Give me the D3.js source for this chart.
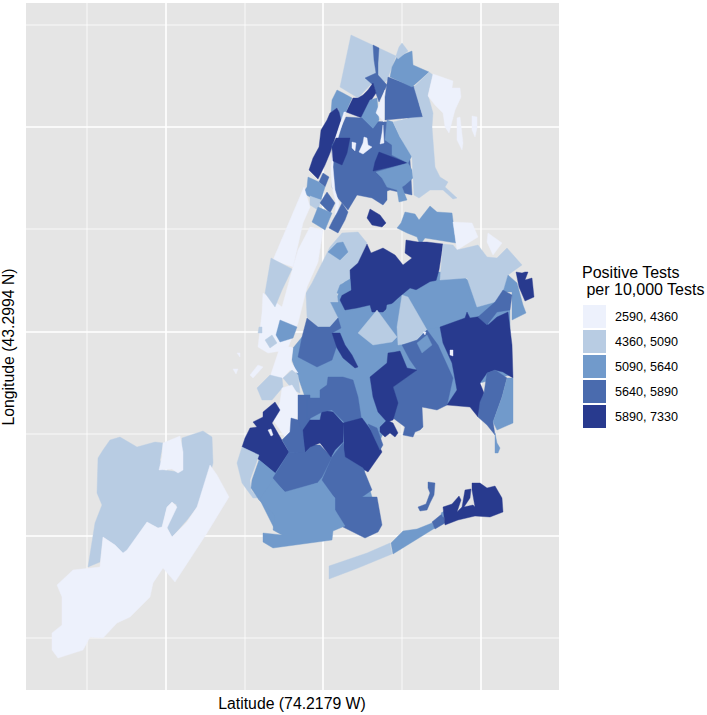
<!DOCTYPE html>
<html>
<head>
<meta charset="utf-8">
<style>
  body { margin: 0; background: #fff; }
  text { font-family: "Liberation Sans", Arial, sans-serif; fill: #000; }
</style>
<script src="https://cdn.jsdelivr.net/npm/d3@7"></script>
</head>
<body>
<div id="myChart"></div>
<script>
// legend bins
var binBreaks = [4360, 5090, 5640, 5890];
var binColors = ["#edf1fc", "#b8cce3", "#719acb", "#4a6bae", "#283a8e"];
var binLabels = ["2590, 4360", "4360, 5090", "5090, 5640", "5640, 5890", "5890, 7330"];
var legendTitle = ["Positive Tests", " per 10,000 Tests"];

// grid positions, map units
var majorEast = [156, 313, 471];
var minorEast = [77, 235, 392];
var majorSouth = [117, 322, 526];
var minorSouth = [15, 219, 424, 628];

// positive tests per 10,000 for each zone, read off the colour bins
// same order as zoneRings
var zoneRates = [
  // staten island
  4700, 4000, 4000,
  // bronx and north
  5770, 4700, 5770, 6300, 5400, 5400, 6300, 5770, 4000, 6300, 4000, 4000, 4000, 4000, 6300, 5400, 5400, 5770, 5400, 4700, 4700, 4000, 4000, 4000,
  // upper manhattan and the east river edge
  5770, 5400, 4700, 5770, 5400, 5770, 6300, 5400, 4000, 4000,
  // queens and brooklyn
  5400, 5400, 4700, 5770, 6300, 5400, 5400, 4700, 6300, 5400, 5400, 4700, 4700, 5770, 6300, 6300, 4000, 6300, 4000, 5770, 5400, 5400, 5400, 5400, 5770, 6300,
  // manhattan
  4000, 4000, 4700, 5400, 4700, 4700, 4000, 4000, 4000, 4000, 4700, 4700, 4000,
  // south brooklyn
  5400, 5770, 6300, 4000, 4700, 5400, 5770, 6300, 5770, 5770, 6300, 5770, 5400, 5770,
  // rockaways and jamaica bay
  4700, 5400, 5770, 5400, 6300, 5770
];

var zoneRings = [
  // staten island
  [[100,430],[110,427],[127,437],[145,432],[153,433],[150,450],[153,460],[170,462],[172,428],[193,421],[202,427],[203,453],[197,477],[187,497],[177,510],[162,527],[157,517],[163,500],[167,495],[162,492],[157,497],[152,517],[148,518],[137,512],[116,543],[112,543],[105,535],[93,527],[90,552],[78,557],[85,513],[92,495],[87,483],[88,448],[93,440]],
  [[153,433],[170,426],[173,442],[173,460],[168,463],[162,459],[149,460],[152,447]],
  [[200,455],[207,465],[219,487],[197,523],[165,572],[153,558],[143,573],[140,587],[120,607],[107,613],[93,628],[80,627],[73,640],[48,648],[42,640],[42,623],[52,615],[52,587],[47,575],[63,560],[90,557],[93,527],[105,535],[113,543],[117,540],[137,512],[148,518],[152,517],[157,497],[162,492],[167,497],[157,518],[162,527],[177,512],[187,497]],
  // bronx and north
  [[340,110],[378,112],[400,150],[402,185],[380,180],[362,186],[347,184],[338,198],[325,130]],
  [[341,25],[386,46],[377,70],[367,80],[362,73],[348,88],[330,77]],
  [[363,35],[369,38],[368,53],[368,65],[377,75],[369,92],[363,75],[355,68],[366,63],[364,50]],
  [[363,73],[366,83],[358,95],[352,108],[336,102],[343,88],[348,88],[353,85],[358,80]],
  [[360,90],[367,88],[369,110],[363,119],[351,108]],
  [[327,80],[333,83],[342,88],[336,102],[330,112],[328,98],[321,102],[322,90]],
  [[327,98],[329,102],[331,110],[325,128],[320,143],[315,155],[308,169],[299,160],[303,148],[309,137],[311,120],[317,110],[320,103]],
  [[336,107],[352,108],[363,119],[368,113],[374,115],[374,133],[382,135],[382,143],[372,145],[364,160],[377,180],[377,190],[373,195],[362,188],[347,185],[338,200],[327,187],[322,177],[323,162],[322,153],[322,135],[327,127]],
  [[334,102],[336,102],[328,128],[324,143],[323,157],[325,180],[329,193],[327,205],[325,205],[326,193],[322,177],[321,157],[322,143],[326,127]],
  [[326,128],[340,128],[337,143],[332,155],[323,151],[322,137]],
  [[342,132],[346,133],[345,141],[342,138]],
  [[354,127],[357,128],[358,135],[362,137],[353,144],[349,142],[353,133]],
  [[375,80],[374,112],[366,103],[367,100]],
  [[373,115],[374,133],[370,134],[372,123]],
  [[369,142],[398,153],[363,161],[365,152]],
  [[366,162],[398,153],[402,160],[403,168],[395,175],[392,177],[397,190],[389,192],[387,180],[377,177],[372,168]],
  [[377,110],[383,112],[390,127],[403,144],[398,153],[382,145],[382,135],[375,130]],
  [[378,67],[405,77],[410,97],[413,107],[408,112],[397,108],[375,110],[375,87]],
  [[387,47],[402,41],[403,55],[419,62],[402,77],[380,67],[382,57]],
  [[392,33],[398,41],[388,49],[386,46],[389,37]],
  [[419,62],[423,65],[418,85],[423,103],[422,117],[425,157],[430,167],[438,172],[435,177],[447,188],[443,189],[433,180],[420,180],[409,188],[404,185],[403,167],[402,147],[390,127],[383,112],[400,108],[413,107],[410,97],[404,77]],
  [[423,64],[443,71],[442,78],[450,78],[451,87],[445,100],[439,123],[435,117],[433,103],[425,95],[418,86]],
  [[447,108],[450,107],[453,133],[452,140],[447,130]],
  [[462,106],[467,107],[467,118],[465,127],[462,120]],
  // upper manhattan and the east river edge
  [[313,163],[319,167],[315,177],[309,172]],
  [[298,167],[309,172],[315,177],[311,190],[300,187],[293,183],[297,177]],
  [[300,186],[311,190],[308,200],[300,195]],
  [[317,182],[325,193],[320,203],[310,193]],
  [[308,197],[322,203],[315,220],[302,212]],
  [[332,193],[338,202],[335,210],[328,223],[319,218],[323,210],[327,203]],
  [[360,199],[370,205],[376,213],[372,217],[362,215],[357,208]],
  [[395,202],[405,204],[409,210],[420,196],[427,202],[442,203],[446,233],[415,228],[410,235],[407,227],[397,223],[387,218],[391,213]],
  [[443,212],[462,213],[468,227],[447,240]],
  [[478,223],[492,233],[483,245],[477,232]],
  // queens and brooklyn
  [[340,262],[430,262],[455,268],[500,300],[500,365],[470,373],[437,395],[412,397],[380,410],[350,470],[322,447],[300,420],[300,380],[320,300]],
  [[319,292],[328,292],[337,302],[360,294],[363,302],[377,300],[388,290],[392,298],[387,315],[388,335],[392,333],[383,342],[377,348],[377,353],[360,367],[363,390],[368,400],[370,410],[360,417],[352,413],[348,387],[343,370],[333,367],[320,367],[317,375],[310,380],[303,390],[295,387],[288,367],[282,350],[283,338],[292,327],[308,317],[320,317],[328,308]],
  [[332,223],[348,222],[357,233],[348,253],[340,260],[340,270],[332,273],[327,285],[328,292],[320,292],[328,308],[320,317],[308,317],[297,307],[296,283],[302,273],[310,257],[320,237]],
  [[297,308],[308,317],[320,317],[328,308],[331,318],[322,323],[327,335],[322,350],[307,357],[288,347],[292,327]],
  [[357,234],[361,243],[373,238],[385,245],[393,255],[402,248],[395,243],[396,230],[408,232],[417,232],[433,234],[429,260],[424,278],[428,283],[427,287],[417,283],[400,278],[388,288],[373,302],[362,302],[360,295],[347,298],[335,300],[330,290],[333,283],[341,280],[340,260],[348,253]],
  [[327,233],[333,232],[338,242],[330,250],[318,242]],
  [[330,275],[340,269],[341,280],[332,285],[327,283]],
  [[348,323],[367,300],[378,315],[387,327],[382,332],[363,335]],
  [[322,323],[330,323],[335,335],[342,345],[348,357],[345,358],[333,348],[327,338]],
  [[377,295],[391,292],[393,303],[388,322],[383,312],[376,303]],
  [[398,285],[420,272],[430,270],[455,268],[463,295],[475,305],[468,307],[458,302],[453,308],[430,317],[415,320],[403,300]],
  [[392,285],[398,287],[417,320],[413,323],[407,332],[388,335],[387,317]],
  [[433,234],[443,235],[447,240],[468,235],[477,247],[487,248],[497,238],[512,255],[498,265],[493,282],[485,292],[467,297],[457,268],[430,270]],
  [[392,335],[407,330],[417,320],[428,335],[443,368],[437,395],[427,400],[412,397],[413,417],[410,420],[405,422],[403,427],[393,425],[395,417],[383,408],[387,393],[383,377],[407,360],[400,350]],
  [[378,343],[385,342],[390,341],[397,358],[407,360],[383,377],[388,393],[383,410],[377,412],[368,402],[363,387],[360,367],[377,353]],
  [[370,417],[377,410],[383,413],[388,423],[385,427],[380,423],[375,427],[370,422]],
  [[413,322],[416,322],[415,325]],
  [[430,317],[455,308],[457,302],[460,308],[473,306],[478,315],[487,307],[498,302],[502,335],[503,368],[493,362],[485,360],[477,363],[470,373],[474,383],[468,407],[460,397],[437,395],[447,380],[442,353],[433,333]],
  [[440,340],[443,340],[443,346],[440,345]],
  [[477,363],[485,360],[497,368],[492,387],[483,412],[485,425],[477,415],[468,407],[470,392],[474,383]],
  [[497,368],[503,368],[503,413],[487,420],[483,412],[492,387]],
  [[485,423],[487,433],[490,438],[488,443],[485,443]],
  [[407,333],[417,325],[422,335],[412,343]],
  [[498,265],[507,273],[513,295],[516,303],[502,310],[502,282],[493,282]],
  [[493,280],[502,285],[500,300],[487,302],[477,315],[468,307],[485,292]],
  [[506,262],[512,263],[515,262],[518,262],[515,270],[522,268],[524,287],[515,291],[509,277]],
  // manhattan
  [[294,177],[300,197],[293,213],[283,257],[263,250]],
  [[300,217],[313,220],[308,252],[297,277],[288,313],[277,340],[258,343],[248,337],[252,303],[253,283],[272,297],[283,257],[288,240]],
  [[261,248],[282,259],[272,280],[265,297],[255,283]],
  [[270,310],[287,317],[283,328],[270,332],[266,325]],
  [[262,325],[267,333],[260,338],[255,330]],
  [[249,317],[252,317],[252,323],[248,323]],
  [[281,337],[283,338],[281,352],[288,363],[280,360],[273,368],[260,367],[270,337]],
  [[248,355],[253,357],[243,368],[240,365]],
  [[227,343],[230,343],[230,347]],
  [[223,359],[228,359],[226,364]],
  [[247,378],[260,365],[272,368],[273,377],[262,390],[252,390]],
  [[273,368],[282,360],[288,365],[290,383],[283,380]],
  [[272,378],[282,375],[290,388],[288,405],[283,420],[275,427],[263,410],[270,392]],
  // south brooklyn
  [[250,450],[280,440],[320,445],[360,480],[370,515],[335,516],[265,520],[250,490]],
  [[288,385],[300,385],[300,440],[280,440],[288,410]],
  [[265,392],[270,400],[262,413],[273,432],[279,442],[265,463],[252,452],[232,437],[235,428],[240,418],[247,417],[243,412],[253,407],[253,402]],
  [[258,420],[261,419],[263,425],[261,426]],
  [[232,437],[249,445],[240,470],[241,480],[248,488],[243,488],[232,473],[227,453]],
  [[249,450],[265,463],[263,470],[249,490],[241,478],[242,470]],
  [[279,442],[285,443],[296,440],[302,435],[310,435],[322,447],[312,467],[307,473],[280,482],[275,482],[263,468]],
  [[293,420],[300,410],[310,410],[312,400],[323,402],[333,413],[333,432],[325,440],[321,447],[310,433],[300,437],[295,442]],
  [[272,430],[280,422],[281,408],[288,410],[292,422],[295,442],[285,443],[279,442]],
  [[297,388],[310,388],[310,380],[317,375],[318,367],[333,367],[343,370],[348,387],[352,413],[335,413],[322,400],[312,402],[297,410]],
  [[333,413],[352,408],[363,423],[372,442],[358,462],[333,447],[334,432]],
  [[333,433],[335,447],[353,458],[362,480],[352,487],[367,487],[372,515],[368,522],[355,528],[333,517],[325,500],[325,488],[312,470],[322,447]],
  [[263,470],[275,482],[307,473],[325,488],[325,500],[335,516],[323,521],[322,530],[263,538],[253,532],[253,523],[272,525],[263,520],[265,505],[249,490]],
  [[358,414],[367,418],[373,435],[370,440],[363,425]],
  // rockaways and jamaica bay
  [[319,556],[357,543],[380,533],[382,544],[348,558],[319,569]],
  [[381,533],[393,521],[407,519],[422,513],[425,518],[383,544]],
  [[422,512],[433,503],[435,513],[425,519]],
  [[431,503],[436,500],[437,505],[433,507]],
  [[433,497],[442,494],[449,486],[451,490],[447,502],[452,497],[455,480],[461,479],[460,488],[454,497],[463,495],[465,497],[462,480],[462,473],[470,473],[477,478],[485,476],[492,488],[493,502],[480,507],[465,506],[448,510],[435,515]],
  [[418,472],[425,473],[424,485],[420,493],[417,500],[410,501],[408,497],[416,494],[420,483],[418,478]]
];

var width = 707, height = 715;
var panel = { left: 26, right: 559, top: 3, bottom: 690 };

var svg = d3.select("#myChart").append("svg")
  .attr("width", width)
  .attr("height", height);

var x = d3.scaleLinear().domain([16, 549]).range([panel.left, panel.right]);
var y = d3.scaleLinear().domain([-7, 680]).range([panel.top, panel.bottom]);

var color = d3.scaleThreshold().domain(binBreaks).range(binColors);

svg.append("rect")
  .attr("x", panel.left)
  .attr("y", panel.top)
  .attr("width", panel.right - panel.left)
  .attr("height", panel.bottom - panel.top)
  .attr("fill", "#e5e5e5");

// grid, thin first then thick
function gridV(values, w) {
  svg.append("g").selectAll("line").data(values).enter().append("line")
    .attr("x1", x).attr("x2", x)
    .attr("y1", panel.top).attr("y2", panel.bottom)
    .attr("stroke", "#fff").attr("stroke-width", w);
}
function gridH(values, w) {
  svg.append("g").selectAll("line").data(values).enter().append("line")
    .attr("y1", y).attr("y2", y)
    .attr("x1", panel.left).attr("x2", panel.right)
    .attr("stroke", "#fff").attr("stroke-width", w);
}
gridV(minorEast, 0.8);
gridH(minorSouth, 0.8);
gridV(majorEast, 1.6);
gridH(majorSouth, 1.6);

var ring = d3.line()
  .x(function(d) { return x(d[0]); })
  .y(function(d) { return y(d[1]); });

svg.append("g").selectAll("path")
  .data(zoneRings)
  .enter()
  .append("path")
  .attr("d", function(d) { return ring(d) + "Z"; })
  .attr("fill", function(d, i) { return color(zoneRates[i]); })
  .attr("stroke", function(d, i) { return color(zoneRates[i]); })
  .attr("stroke-width", 0.4)
  .attr("stroke-linejoin", "round");

// axis titles
svg.append("text")
  .attr("x", 292).attr("y", 709)
  .attr("text-anchor", "middle")
  .attr("font-size", 15.8)
  .text("Latitude (74.2179 W)");

svg.append("text")
  .attr("transform", "translate(14,347) rotate(-90)")
  .attr("text-anchor", "middle")
  .attr("font-size", 15.8)
  .text("Longitude (43.2994 N)");

// legend
var legend = svg.append("g");

legend.selectAll("text.title")
  .data(legendTitle)
  .enter()
  .append("text")
  .attr("class", "title")
  .attr("x", 582)
  .attr("y", function(d, i) { return 278 + i * 17; })
  .attr("font-size", 16)
  .style("white-space", "pre")
  .text(function(d) { return d; });

var keyY = d3.scaleBand().domain(binLabels).range([304, 429]);

legend.selectAll("rect")
  .data(binLabels)
  .enter()
  .append("rect")
  .attr("x", 583)
  .attr("y", function(d) { return keyY(d) + 1; })
  .attr("width", 23)
  .attr("height", 23)
  .attr("fill", function(d, i) { return binColors[i]; });

legend.selectAll("text.key")
  .data(binLabels)
  .enter()
  .append("text")
  .attr("class", "key")
  .attr("x", 615)
  .attr("y", function(d) { return keyY(d) + 17; })
  .attr("font-size", 12.6)
  .text(function(d) { return d; });
</script>
</body>
</html>
